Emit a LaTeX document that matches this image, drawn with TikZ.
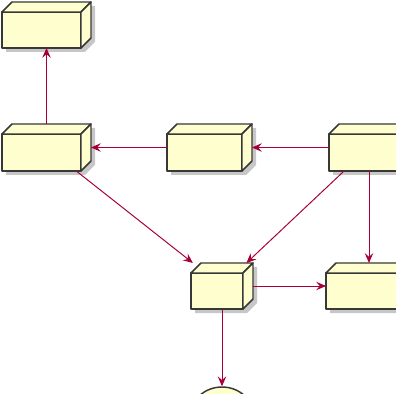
\documentclass[tikz,border=0pt]{standalone}
\usetikzlibrary{arrows.meta,calc,shapes.geometric,shadows}
\definecolor{boxfill}{HTML}{FEFECE}
\definecolor{boxline}{HTML}{383838}
\definecolor{linkc}{HTML}{A80036}
\tikzset{
  depnode/.style 2 args={rectangle,draw=none,inner sep=0pt,outer sep=0pt,
    minimum width=#1*0.025cm,minimum height=#2*0.025cm},
  boxface/.style={draw=boxline,fill=boxfill,line width=1.05pt,line join=round},
  shadowfill/.style={fill=black,opacity=.22},
  link/.style={draw=linkc,line width=.7pt,-{Stealth[length=7pt,width=6pt,inset=2.6pt]}}
}
\begin{document}
\begin{tikzpicture}[x=0.025cm,y=-0.025cm]
\useasboundingbox (0,0) rectangle (396,394);
\clip (0,0) rectangle (396,394);
% nodes (outer box of each 3D block)
\node[depnode={89}{46}] (box1) at (46.5,25) {};
\node[depnode={89}{47}] (box2) at (46.5,147.5) {};
\node[depnode={85}{47}] (box3) at (209.5,147.5) {};
\node[depnode={80}{47}] (box4) at (369,147.5) {};
\node[depnode={62}{46}] (box5) at (222,286) {};
\node[depnode={86}{46}] (box6) at (369,286) {};
\node[ellipse,draw=boxline,fill=boxfill,line width=1.05pt,inner sep=0pt,
  minimum width=1.6cm,minimum height=1.5cm,
  drop shadow={shadow xshift=.1cm,shadow yshift=-.1cm,opacity=.22}] (store) at (222,417) {};
% 3D faces
\foreach \n in {box1,box2,box3,box4,box5,box6} {
  \fill[shadowfill] ([shift={(4,14)}]\n.north west) -- ([shift={(14,4)}]\n.north west)
    -- ([shift={(4,4)}]\n.north east) -- ([shift={(4,-6)}]\n.south east)
    -- ([shift={(-6,4)}]\n.south east) -- ([shift={(4,4)}]\n.south west) -- cycle;
  \draw[boxface] ([shift={(0,10)}]\n.north west) rectangle ([shift={(-10,0)}]\n.south east);
  \draw[boxface] ([shift={(0,10)}]\n.north west) -- ([shift={(10,0)}]\n.north west)
    -- (\n.north east) -- ([shift={(-10,10)}]\n.north east) -- cycle;
  \draw[boxface] ([shift={(-10,10)}]\n.north east) -- (\n.north east)
    -- ([shift={(0,-10)}]\n.south east) -- ([shift={(-10,0)}]\n.south east) -- cycle;
}
% links
\draw[link] (box2) -- (box1);
\draw[link] (box3) -- (box2);
\draw[link] (box4) -- (box3);
\draw[link] (box2) -- (box5);
\draw[link] (box4) -- (box5);
\draw[link] (box4) -- (box6);
\draw[link] (box5) -- (box6);
\draw[link] (box5) -- (store);
\end{tikzpicture}
\end{document}
